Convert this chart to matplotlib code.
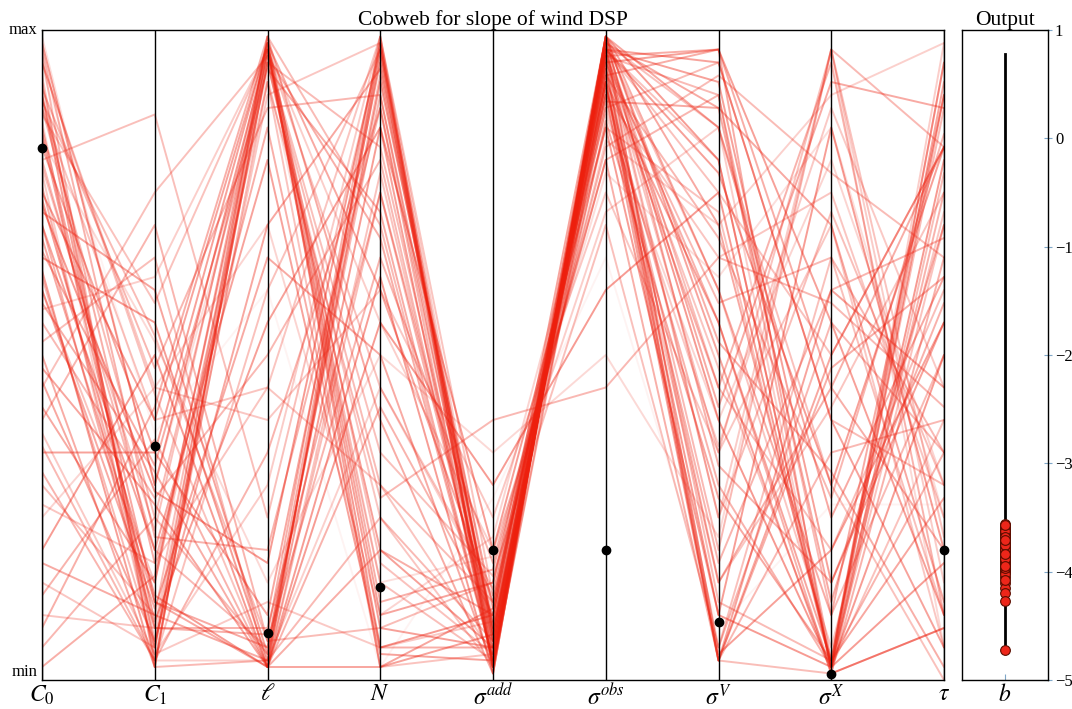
import numpy as np
import matplotlib
matplotlib.use("Agg")
import matplotlib.pyplot as plt
from matplotlib.transforms import offset_copy

plt.rcParams['font.family'] = ['Liberation Serif', 'DejaVu Serif']
plt.rcParams['mathtext.fontset'] = 'stix'

title = "Cobweb for slope of wind DSP"
axis_labels = [r'$C_0$', r'$C_1$', r'$\ell$', r'$N$', r'$\sigma^{add}$',
               r'$\sigma^{obs}$', r'$\sigma^{V}$', r'$\sigma^{X}$', r'$\tau$']

# normalised parameter values (0 = min, 1 = max), one entry per sample
c0 = [0.98, 0.90, 0.85, 0.80, 0.93, 0.75, 0.70, 0.88, 0.65, 0.60, 0.95, 0.50, 0.82, 0.40, 0.30, 0.78,
      0.20, 0.90, 0.10, 0.72, 0.55, 0.86, 0.35, 0.97, 0.45, 0.68, 0.25, 0.92, 0.58, 0.15, 0.83, 0.63,
      0.05, 0.88, 0.42, 0.76, 0.99, 0.52, 0.70, 0.32, 0.87, 0.18, 0.94, 0.62, 0.48, 0.80, 0.08, 0.74,
      0.91, 0.38, 0.66, 0.27, 0.96, 0.57, 0.84, 0.13, 0.79, 0.46, 0.89, 0.02, 0.73, 0.36, 0.95, 0.60]
c1 = [0.30, 0.05, 0.12, 0.20, 0.03, 0.40, 0.08, 0.25, 0.55, 0.15, 0.45, 0.02, 0.35, 0.70, 0.10, 0.04,
      0.50, 0.18, 0.08, 0.60, 0.28, 0.03, 0.35, 0.22, 0.75, 0.12, 0.45, 0.06, 0.32, 0.05, 0.52, 0.02,
      0.25, 0.40, 0.15, 0.08, 0.30, 0.65, 0.20, 0.03, 0.58, 0.10, 0.38, 0.05, 0.27, 0.87, 0.42, 0.13,
      0.48, 0.04, 0.33, 0.18, 0.02, 0.62, 0.09, 0.37, 0.23, 0.06, 0.53, 0.16, 0.29, 0.03, 0.44, 0.11]
ell = [0.97, 0.95, 0.02, 0.05, 0.60, 0.98, 0.08, 0.96, 0.03, 0.92, 0.40, 0.99, 0.10, 0.06, 0.97, 0.30,
       0.02, 0.85, 0.95, 0.04, 0.50, 0.03, 0.98, 0.20, 0.96, 0.05, 0.70, 0.99, 0.02, 0.90, 0.15, 0.97,
       0.04, 0.45, 0.98, 0.07, 0.93, 0.02, 0.80, 0.35, 0.97, 0.03, 0.60, 0.95, 0.02, 0.25, 0.99, 0.02,
       0.88, 0.12, 0.94, 0.45, 0.03, 0.97, 0.55, 0.02, 0.98, 0.70, 0.06, 0.96, 0.18, 0.92, 0.02, 0.65]
n_part = [0.05, 0.20, 0.98, 0.90, 0.97, 0.10, 0.75, 0.30, 0.85, 0.02, 0.60, 0.40, 0.95, 0.65, 0.15, 0.99,
          0.55, 0.05, 0.25, 0.92, 0.80, 0.45, 0.02, 0.88, 0.35, 0.97, 0.10, 0.70, 0.20, 0.98, 0.50, 0.08,
          0.93, 0.30, 0.60, 0.99, 0.15, 0.75, 0.04, 0.88, 0.45, 0.96, 0.02, 0.82, 0.02, 0.97, 0.12, 0.62,
          0.90, 0.05, 0.72, 0.99, 0.25, 0.55, 0.85, 0.42, 0.18, 0.94, 0.08, 0.68, 0.98, 0.28, 0.78, 0.50]
s_add = [0.10, 0.05, 0.03, 0.08, 0.02, 0.15, 0.06, 0.12, 0.20, 0.04, 0.25, 0.01, 0.07, 0.18, 0.03, 0.09,
         0.30, 0.05, 0.02, 0.11, 0.04, 0.13, 0.07, 0.02, 0.16, 0.06, 0.22, 0.03, 0.10, 0.01, 0.35, 0.05,
         0.08, 0.04, 0.12, 0.02, 0.19, 0.09, 0.03, 0.06, 0.14, 0.02, 0.28, 0.07, 0.11, 0.04, 0.17, 0.01,
         0.05, 0.09, 0.03, 0.13, 0.06, 0.20, 0.02, 0.10, 0.04, 0.08, 0.15, 0.03, 0.07, 0.40, 0.05, 0.02]
s_obs = [0.97, 0.95, 0.99, 0.93, 0.98, 0.90, 0.96, 0.88, 0.85, 0.97, 0.75, 0.99, 0.92, 0.80, 0.98, 0.96,
         0.60, 0.94, 0.90, 0.99, 0.95, 0.83, 0.97, 0.91, 0.70, 0.99, 0.87, 0.96, 0.93, 0.98, 0.50, 0.97,
         0.92, 0.95, 0.89, 0.99, 0.78, 0.94, 0.97, 0.91, 0.85, 0.98, 0.65, 0.96, 0.92, 0.97, 0.80, 0.99,
         0.93, 0.88, 0.96, 0.90, 0.95, 0.72, 0.98, 0.94, 0.97, 0.86, 0.82, 0.99, 0.92, 0.45, 0.96, 0.98]
s_v = [0.40, 0.97, 0.70, 0.20, 0.85, 0.03, 0.55, 0.95, 0.10, 0.80, 0.35, 0.60, 0.03, 0.90, 0.45, 0.25,
       0.75, 0.15, 0.65, 0.50, 0.03, 0.70, 0.92, 0.30, 0.05, 0.85, 0.40, 0.12, 0.97, 0.60, 0.22, 0.78,
       0.05, 0.48, 0.88, 0.33, 0.62, 0.03, 0.95, 0.18, 0.72, 0.42, 0.08, 0.90, 0.55, 0.25, 0.03, 0.80,
       0.68, 0.36, 0.97, 0.15, 0.58, 0.85, 0.04, 0.45, 0.75, 0.28, 0.93, 0.52, 0.10, 0.65, 0.35, 0.88]
s_x = [0.02, 0.55, 0.03, 0.97, 0.30, 0.60, 0.01, 0.40, 0.85, 0.02, 0.70, 0.10, 0.50, 0.03, 0.20, 0.97,
       0.02, 0.45, 0.75, 0.01, 0.35, 0.90, 0.15, 0.02, 0.65, 0.25, 0.80, 0.03, 0.45, 0.05, 0.97, 0.30,
       0.55, 0.02, 0.70, 0.15, 0.85, 0.01, 0.40, 0.60, 0.02, 0.92, 0.27, 0.10, 0.03, 0.72, 0.48, 0.02,
       0.28, 0.88, 0.01, 0.42, 0.65, 0.02, 0.20, 0.95, 0.50, 0.03, 0.78, 0.32, 0.02, 0.58, 0.97, 0.12]
tau = [0.80, 0.10, 0.95, 0.82, 0.00, 0.45, 0.65, 0.30, 0.20, 0.70, 0.05, 0.90, 0.82, 0.35, 0.60, 0.15,
       0.50, 0.82, 0.25, 0.08, 0.40, 0.98, 0.55, 0.75, 0.10, 0.62, 0.30, 0.88, 0.20, 0.72, 0.05, 0.82,
       0.35, 0.95, 0.12, 0.58, 0.25, 0.78, 0.05, 0.68, 0.40, 0.88, 0.27, 0.50, 0.92, 0.30, 0.62, 0.18,
       0.84, 0.45, 0.08, 0.75, 0.35, 0.98, 0.55, 0.10, 0.82, 0.28, 0.65, 0.02, 0.90, 0.42, 0.22, 0.70]

# output value (slope b) of each sample
b_out = [-3.56, -3.62, -3.70, -3.85, -3.93, -3.65, -3.78, -3.88, -3.60, -3.95, -4.00, -3.72, -3.68, -3.81,
         -3.90, -4.05, -3.58, -3.75, -3.98, -3.66, -3.84, -4.10, -3.63, -3.79, -3.92, -3.70, -4.15, -3.87,
         -3.74, -3.99, -4.20, -3.61, -3.83, -3.96, -3.69, -3.77, -4.27, -3.89, -3.64, -3.80, -3.94, -3.71,
         -4.72, -3.86, -3.67, -3.91, -3.76, -3.59, -3.82, -4.02, -3.73, -3.97, -3.85, -4.08, -3.62, -3.79,
         -3.93, -3.68, -3.88, -3.75, -3.57, -3.84, -3.95, -3.71]

# reference (nominal) parameter point, normalised
reference = [0.818, 0.36, 0.072, 0.143, 0.20, 0.20, 0.09, 0.009, 0.20]
# output range shown by the black bar
b_range = [-4.72, 0.78]

columns = [c0, c1, ell, n_part, s_add, s_obs, s_v, s_x, tau]
data = np.array(columns).T
b_arr = np.array(b_out)
xs = np.arange(len(columns))

fig = plt.figure(figsize=(10.72, 7.09), dpi=100)
ax = fig.add_axes([42/1072, 1-680/709, (944-42)/1072, 650/709])
axo = fig.add_axes([962/1072, 1-680/709, (1048-962)/1072, 650/709])

# alpha from output value
w = (b_arr - b_arr.min()) / (b_arr.max() - b_arr.min())
alphas = 0.05 + 0.40 * w ** 1.5
red = (0.93, 0.12, 0.05)
for row, a in zip(data, alphas):
    ax.plot(xs, row, color=red, alpha=a, lw=1.4, solid_capstyle='round')

for x in xs:
    ax.axvline(x, color='black', lw=1.0, zorder=3)
ax.plot(xs, reference, 'o', color='black', ms=6, zorder=4, clip_on=False)

ax.set_xlim(0, len(columns) - 1)
ax.set_ylim(0, 1)
ax.set_xticks(xs)
ax.set_xticklabels(axis_labels, fontsize=17)
ax.tick_params(axis='x', length=0, pad=3)
ax.set_yticks([])
for s in ax.spines.values():
    s.set_color('black')
    s.set_linewidth(1.0)
max_tr = offset_copy(ax.transAxes, fig=fig, x=-3, y=0, units='points')
min_tr = offset_copy(ax.transAxes, fig=fig, x=-3, y=0, units='points')
ax.text(0.0, 1.0, 'max', transform=max_tr, ha='right', va='center', fontsize=12)
ax.text(0.0, 0.0, 'min', transform=min_tr, ha='right', va='bottom', fontsize=12)
ax.set_title(title, fontsize=15.5, pad=2)

# output panel
axo.plot([0, 0], b_range, color='black', lw=2, zorder=2)
axo.plot(np.zeros_like(b_arr), b_arr, 'o', mfc=(0.93, 0.15, 0.1), mec=(0.35, 0.05, 0.0),
         mew=0.8, ms=7, zorder=3)
axo.set_xlim(-1, 1)
axo.set_ylim(-5, 1)
axo.set_xticks([0])
axo.set_xticklabels([r'$b$'], fontsize=17)
axo.yaxis.tick_right()
axo.set_yticks(np.arange(-5, 2, 1))
axo.set_yticklabels([str(v).replace('-', '\u2212') for v in range(-5, 2)], fontsize=12)
axo.tick_params(axis='y', direction='inout', length=6, color='#7fa6c8', pad=2)
axo.tick_params(axis='x', direction='in', length=4, color='#7fa6c8', pad=3)
for s in axo.spines.values():
    s.set_color('black')
    s.set_linewidth(1.0)
axo.set_title('Output', fontsize=15.5, pad=2)

fig.savefig('out.png', dpi=100)
